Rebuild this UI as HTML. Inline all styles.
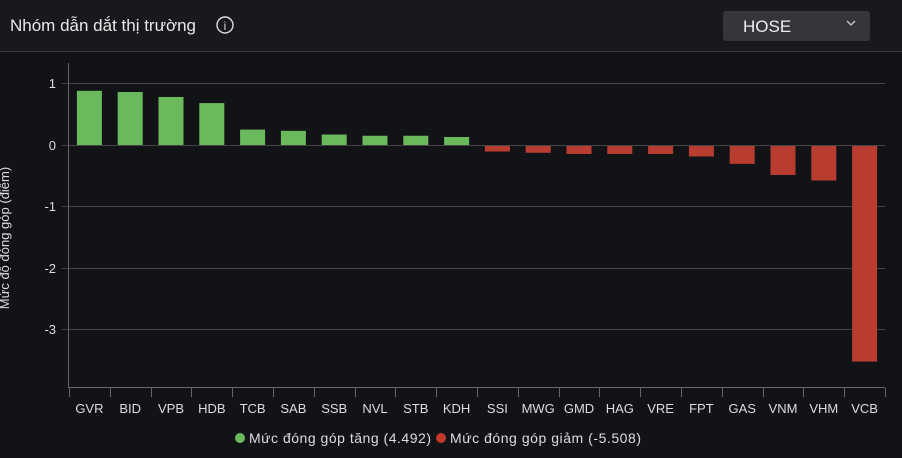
<!DOCTYPE html><html><head><style>html,body{margin:0;width:902px;height:458px;overflow:hidden;background:#141518;font-family:"Liberation Sans",sans-serif;}svg{display:block}</style></head><body>
<svg width="902" height="458" xmlns="http://www.w3.org/2000/svg" font-family="Liberation Sans, sans-serif">
<rect width="902" height="458" fill="#121316"/>
<rect width="902" height="51" fill="#18191c"/>
<line x1="0" y1="51.5" x2="902" y2="51.5" stroke="#3a3b3e"/>
<text x="10" y="31" fill="#e8e8e8" font-size="17">Nhóm dẫn dắt thị trường</text>
<circle cx="225" cy="25" r="8" fill="none" stroke="#ddd" stroke-width="1.4"/>
<text x="225" y="30" fill="#ddd" font-size="12" text-anchor="middle">i</text>
<rect x="723" y="11" width="147" height="30" rx="3" fill="#35363b"/>
<text x="743" y="32" fill="#eee" font-size="17">HOSE</text>
<path d="M847 21 l4 4 l4 -4" fill="none" stroke="#ccc" stroke-width="1.3"/>
<g stroke="#444" stroke-width="1">
<line x1="62" y1="83.5" x2="885" y2="83.5"/><line x1="62" y1="145.5" x2="885" y2="145.5"/>
<line x1="62" y1="206.5" x2="885" y2="206.5"/><line x1="62" y1="268.5" x2="885" y2="268.5"/>
<line x1="62" y1="329.5" x2="885" y2="329.5"/>
</g>
<line x1="68.5" y1="63" x2="68.5" y2="387" stroke="#666"/>
<line x1="68" y1="387.5" x2="885" y2="387.5" stroke="#666"/>
<g fill="#ddd" font-size="13" text-anchor="end">
<text x="56" y="88">1</text><text x="56" y="150">0</text><text x="56" y="211">-1</text><text x="56" y="273">-2</text><text x="56" y="334">-3</text></g>
<text transform="translate(9,238) rotate(-90)" fill="#ddd" font-size="13" text-anchor="middle">Mức độ đóng góp (điểm)</text>
<g id="bars"></g>
<g id="ticks" stroke="#666"></g>
<g id="labels" fill="#ddd" font-size="13" text-anchor="middle"></g>
<circle cx="240" cy="438" r="5" fill="#6ab95c"/>
<text x="249" y="443" fill="#ddd" font-size="14" textLength="182">Mức đóng góp tăng (4.492)</text>
<circle cx="441" cy="438" r="5" fill="#c0392b"/>
<text x="450" y="443" fill="#ddd" font-size="14" textLength="191">Mức đóng góp giảm (-5.508)</text>
</svg>
<script>
var d=[["GVR",.88],["BID",.86],["VPB",.78],["HDB",.68],["TCB",.25],["SAB",.23],["SSB",.17],["NVL",.15],["STB",.15],["KDH",.13],["SSI",-.09],["MWG",-.11],["GMD",-.13],["HAG",-.13],["VRE",-.13],["FPT",-.17],["GAS",-.29],["VNM",-.47],["VHM",-.56],["VCB",-3.5]];
var ns="http://www.w3.org/2000/svg",x0=69,w=(885-69)/20,z=145,s=61.6;
function el(t,a,p,tx){var e=document.createElementNS(ns,t);for(var k in a)e.setAttribute(k,a[k]);if(tx)e.textContent=tx;document.getElementById(p).appendChild(e);}
d.forEach(function(v,i){var cx=x0+w*(i+.5),h=Math.abs(v[1])*s;
el("rect",{x:cx-12.5,y:v[1]>0?z-h:z+1,width:25,height:h,fill:v[1]>0?"#6ab95c":"#b83c30"},"bars");
el("line",{x1:Math.round(x0+w*i)+.5,y1:388,x2:Math.round(x0+w*i)+.5,y2:397},"ticks");
el("text",{x:cx,y:413},"labels",v[0]);});
el("line",{x1:885.5,y1:388,x2:885.5,y2:397},"ticks");
</script>
</body></html>
